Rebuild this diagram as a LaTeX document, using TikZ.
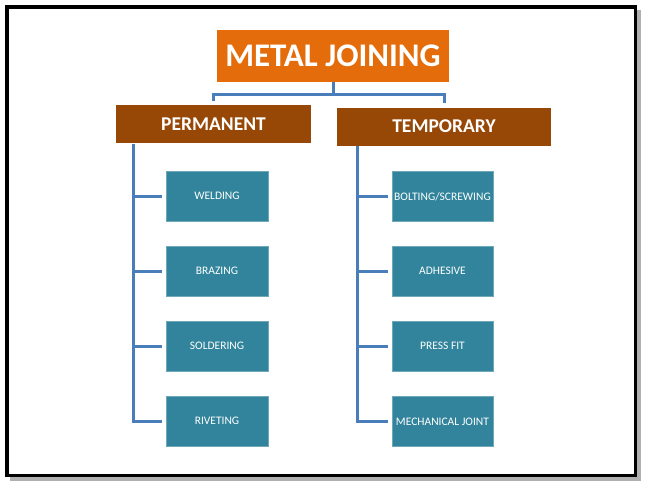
\documentclass[tikz,border=0pt]{standalone}
\usepackage{fontspec}
\setmainfont{Carlito}
\definecolor{titleor}{HTML}{E46C0A}
\definecolor{catbr}{HTML}{974806}
\definecolor{leafteal}{HTML}{31849B}
\definecolor{linkblue}{HTML}{4A7EBB}
\definecolor{shadowgray}{HTML}{B0B0B0}
\begin{document}
\begin{tikzpicture}[x=1pt,y=-1pt,
  titlebox/.style={fill=titleor,text=white,font=\fontsize{33}{33}\selectfont\bfseries,inner sep=0pt,minimum width=232pt,minimum height=52pt},
  catbox/.style={fill=catbr,text=white,font=\fontsize{19.5}{19.5}\selectfont\bfseries,inner sep=0pt,minimum height=38pt},
  leafbox/.style={fill=leafteal,draw=leafteal!70!white,line width=0.6pt,text=white,font=\fontsize{11.5}{11.5}\selectfont,inner sep=0pt,minimum width=102pt,minimum height=50pt},
  link/.style={draw=linkblue,line width=3pt}]
\useasboundingbox (0,0) rectangle (648,490);
% frame with shadow
\fill[shadowgray] (10,10) rectangle (641,481);
\fill[white] (5,5) rectangle (637,477);
\draw[line width=3.5pt] (6.75,6.75) rectangle (635.25,475.25);
% title
\node[titlebox] (title) at (333,56) {METAL JOINING};
\node[catbox,minimum width=195pt] (perm) at (213.5,124) {PERMANENT};
\node[catbox,minimum width=214pt] (temp) at (444,126.5) {TEMPORARY};
\coordinate (mid) at (333,94);
\draw[link] (title.south) -- (mid);
\draw[link] (213,101) -- (213,94) -- (444,94) -- (444,103);
% left leaves
\node[leafbox] (weld) at (217,196) {WELDING};
\node[leafbox] (braz) at (217,271) {BRAZING};
\node[leafbox] (sold) at (217,346) {SOLDERING};
\node[leafbox] (rivet) at (217,421) {RIVETING};
% right leaves
\node[leafbox,minimum width=101pt] (bolt) at (442.5,196.5) {BOLTING/SCREWING};
\node[leafbox,minimum width=101pt] (adh) at (442.5,271) {ADHESIVE};
\node[leafbox,minimum width=101pt] (press) at (442.5,346) {PRESS FIT};
\node[leafbox,minimum width=101pt] (mech) at (442.5,421.5) {MECHANICAL JOINT};
% left connectors
\coordinate (lt) at (133,144);
\draw[link] (lt) -- (133,421) -- ([xshift=-4pt]rivet.west);
\foreach \n in {weld,braz,sold}{
  \draw[link] (133,0 |- \n.west) -- ([xshift=-4pt]\n.west);
}
% right connectors
\coordinate (rt) at (357,146);
\draw[link] (rt) -- (357,421.5) -- ([xshift=-4pt]mech.west);
\foreach \n in {bolt,adh,press}{
  \draw[link] (357,0 |- \n.west) -- ([xshift=-4pt]\n.west);
}
\end{tikzpicture}
\end{document}
